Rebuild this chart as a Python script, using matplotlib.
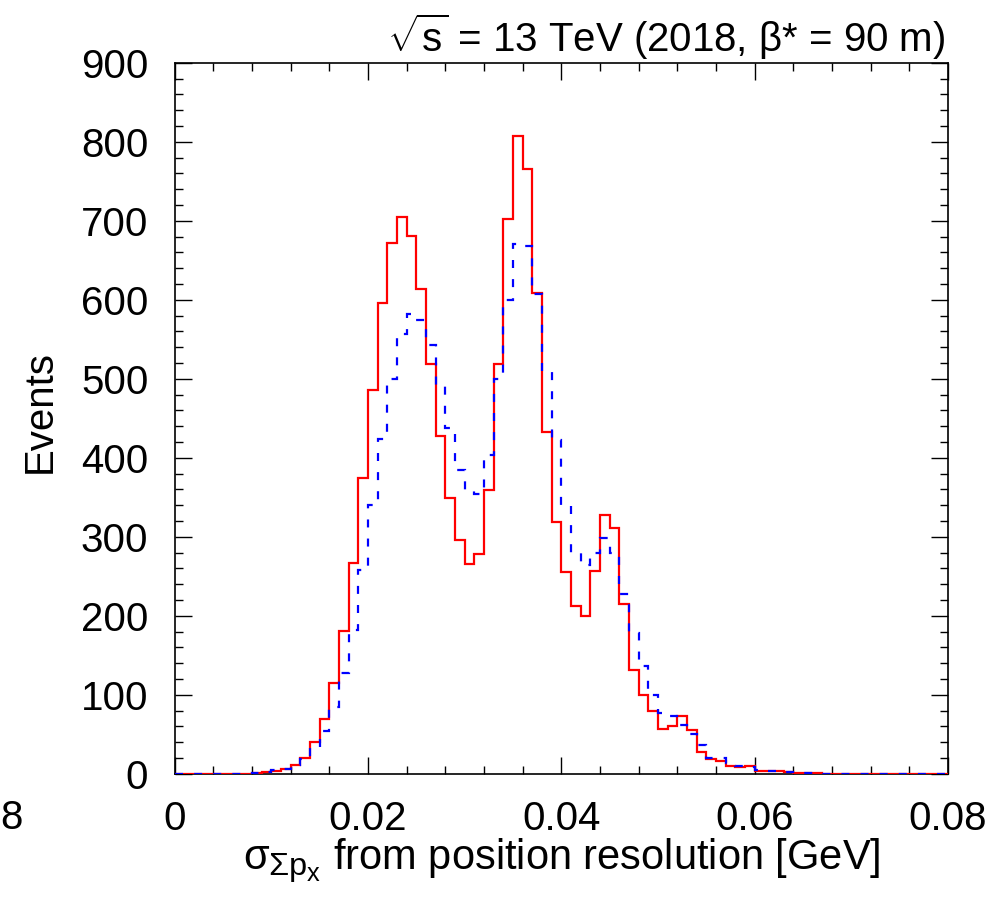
import numpy as np
import matplotlib
matplotlib.use("Agg")
import matplotlib.pyplot as plt
import matplotlib._mathtext as _mt
from matplotlib.ticker import MultipleLocator, FixedLocator

plt.rcParams['font.family'] = ['Liberation Sans', 'DejaVu Sans']
plt.rcParams['mathtext.fontset'] = 'custom'
plt.rcParams['mathtext.rm'] = 'Liberation Sans'
plt.rcParams['mathtext.it'] = 'Liberation Sans'
plt.rcParams['mathtext.bf'] = 'Liberation Sans:bold'
plt.rcParams['mathtext.sf'] = 'Liberation Sans'
_mt.SHRINK_FACTOR = 0.78  # ROOT-like larger subscripts

# ---- data (80 bins of width 0.001 GeV from 0 to 0.08) ----
bin_edges_lo = 0.0
bin_edges_hi = 0.08
n_bins = 80

red_counts = [0, 0, 0, 0, 0, 0, 0, 0, 1, 2,
              4, 6, 11, 20, 40, 69, 115, 181, 267, 374,
              486, 596, 672, 705, 681, 613, 519, 428, 349, 296,
              266, 278, 359, 519, 702, 807, 765, 608, 433, 318,
              255, 212, 199, 257, 327, 311, 215, 131, 99, 79,
              56, 60, 73, 55, 28, 19, 16, 10, 9, 10,
              4, 4, 3, 2, 1, 1, 1, 0, 0, 0,
              0, 0, 0, 0, 0, 0, 0, 0, 0, 0]

blue_counts = [0, 0, 0, 0, 0, 0, 0, 0, 1, 2,
               5, 6, 11, 19, 33, 54, 85, 128, 182, 258,
               340, 424, 500, 557, 582, 574, 543, 492, 437, 384,
               358, 354, 403, 500, 600, 670, 668, 607, 510, 422,
               339, 280, 264, 280, 298, 280, 228, 178, 136, 99,
               77, 73, 62, 50, 36, 20, 20, 13, 10, 9,
               5, 4, 3, 2, 2, 1, 1, 0, 0, 0,
               0, 0, 0, 0, 0, 0, 0, 0, 0, 0]

x_major_ticks = [0.0, 0.02, 0.04, 0.06, 0.08]
x_tick_labels = ["0", "0.02", "0.04", "0.06", "0.08"]
y_major_ticks = [0, 100, 200, 300, 400, 500, 600, 700, 800, 900]

x_title = r"$\sigma_{\Sigma p_{x}}$ from position resolution [GeV]"
y_title = "Events"
top_text = r"$\sqrt{s}$ = 13 TeV (2018, β* = 90 m)"

# ---- figure ----
W, H = 1008, 905
ax_l, ax_r, ax_t, ax_b = 174.7, 948.0, 62.7, 773.7
fig = plt.figure(figsize=(W / 100, H / 100), dpi=100)
ax = fig.add_axes([ax_l / W, 1 - ax_b / H, (ax_r - ax_l) / W, (ax_b - ax_t) / H])

edges = np.linspace(bin_edges_lo, bin_edges_hi, n_bins + 1)
lw = 1.6
ax.stairs(red_counts, edges, color=(1, 0, 0), lw=lw, baseline=None, zorder=3)
ax.stairs(blue_counts, edges, color=(0, 0, 1), lw=lw, baseline=None, zorder=4,
          linestyle=(0, (3.6, 5.0)))

ax.set_xlim(bin_edges_lo, bin_edges_hi)
ax.set_ylim(0, 900)

fs = 29
ax.xaxis.set_major_locator(FixedLocator(x_major_ticks))
ax.set_xticklabels(x_tick_labels, fontsize=fs)
ax.xaxis.set_minor_locator(MultipleLocator(0.004))
ax.yaxis.set_major_locator(FixedLocator(y_major_ticks))
ax.set_yticklabels([str(v) for v in y_major_ticks], fontsize=fs)
ax.yaxis.set_minor_locator(MultipleLocator(20))

ax.tick_params(which='both', direction='in', top=True, right=True, width=1.0, color='black')
ax.tick_params(which='major', length=12)
ax.tick_params(which='minor', length=6)
ax.tick_params(axis='x', which='major', pad=19)
ax.tick_params(axis='y', which='major', pad=19)
for sp in ax.spines.values():
    sp.set_linewidth(1.2)

ax.set_xlabel(x_title, fontsize=30)
ax.xaxis.label.set_va('baseline')
ax.xaxis.set_label_coords(0.5, (ax_b - 869) / (ax_b - ax_t))

ax.set_ylabel(y_title, fontsize=fs)
ax.yaxis.label.set_va('center')
ax.yaxis.label.set_ha('center')
ax.yaxis.set_label_coords((40 - ax_l) / (ax_r - ax_l), (ax_b - 411) / (ax_b - ax_t))

fig.text(945 / W, 1 - 52 / H, top_text, fontsize=fs, ha='right', va='baseline')
fig.text(11 / W, 1 - 818 / H, "8", fontsize=fs, ha='center', va='center')

fig.savefig("out.png", dpi=100)
